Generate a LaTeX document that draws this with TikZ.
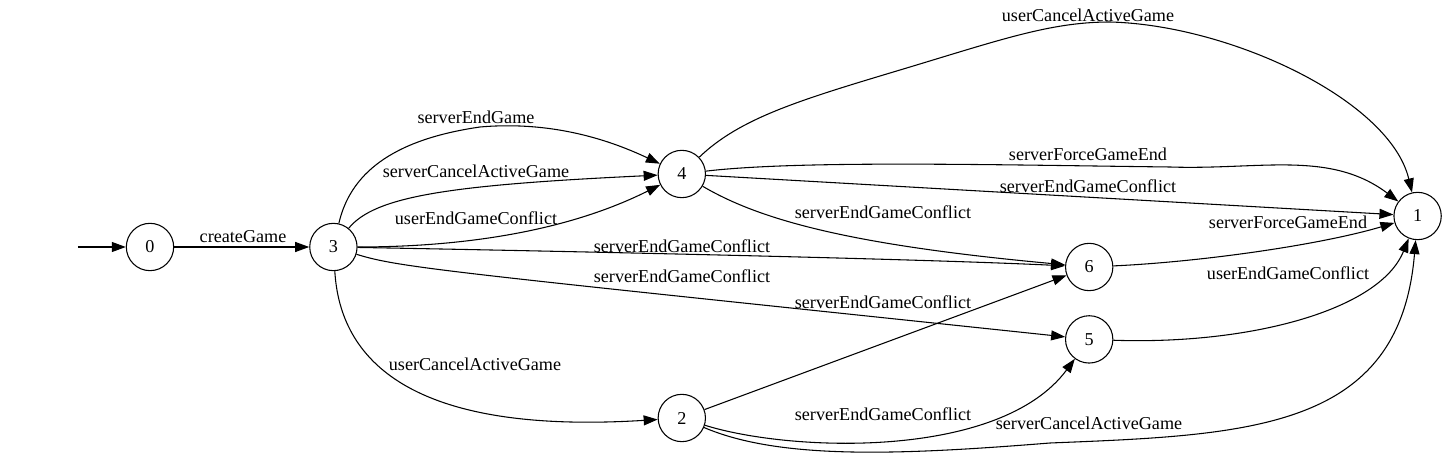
\documentclass[tikz,border=0pt]{standalone}
\usepackage{fontspec}
\setmainfont{Liberation Serif}
\usepackage{tikz}
\usetikzlibrary{
  arrows.meta,
  positioning
}

\begin{document}
\begin{tikzpicture}[
  x=0.75pt, y=-0.75pt,
  st/.style  = {
    circle, draw, line width=0.8pt, minimum size=35.5pt, inner sep=0pt,
    font=\fontsize{13.6}{16}\selectfont
  },
  lbl/.style = {inner sep=0pt, font=\fontsize{13.6}{16}\selectfont},
  arr/.style = {-{Triangle[length=10.5pt,width=7.5pt]}, line width=0.8pt}
]
\useasboundingbox (0,0) rectangle (1447,459);

% Estados
\node[st] (n0) at (150,247) {0};
\node[st, right=101.25pt of n0]                (n3) {3};
\node[st, right=225pt of n3, yshift=54.75pt]    (n4) {4};
\node[st, right=225pt of n3, yshift=-128.25pt]  (n2) {2};
\node[st, right=269.25pt of n4, yshift=-69.75pt] (n6) {6};
\node[st, below=18pt of n6]                    (n5) {5};
\node[st, right=210pt of n6, yshift=38.25pt]    (n1) {1};
\coordinate[left=36pt of n0] (ini);

% Transiciones desde 0 y 3
\draw[arr] (ini) -- (n0);
\draw[arr] (n0) -- (n3);
\draw[arr] (n3) .. controls (350,175) and (390,140) .. (480,127)
                .. controls (560,120) and (620,145) .. (n4);
\draw[arr] (n3) .. controls (375,196) and (450,185) .. (n4);
\draw[arr] (n3) .. controls (450,247) and (560,235) .. (n4);
\draw[arr] (n3) .. controls (500,250) and (900,258) .. (n6);
\draw[arr] (n3) .. controls (400,268) and (450,272) .. (n5);
\draw[arr] (n3) .. controls (340,360) and (410,435) .. (n2);

% Transiciones desde 4
\draw[arr] (n4) .. controls (740,118) and (800,100) .. (900,70)
                .. controls (1000,40) and (1050,22) .. (1110,22)
                .. controls (1230,25) and (1390,100) .. (n1);
\draw[arr] (n4) .. controls (800,160) and (1000,165) .. (1170,167)
                .. controls (1260,170) and (1330,150) .. (n1);
\draw[arr] (n4) -- (n1);
\draw[arr] (n4) .. controls (760,220) and (850,245) .. (n6);

% Transiciones desde 6, 5 y 2
\draw[arr] (n6) .. controls (1200,262) and (1320,245) .. (n1);
\draw[arr] (n5) .. controls (1250,345) and (1380,310) .. (n1);
\draw[arr] (n2) -- (n6);
\draw[arr] (n2) .. controls (790,452) and (1000,460) .. (n5);
\draw[arr] (n2) .. controls (780,460) and (900,455) .. (1050,443)
                .. controls (1250,435) and (1400,430) .. (n1);

% Etiquetas
\node[lbl] (t03)  at (243,237)  {createGame};
\node[lbl] (t34a) at (476,117)  {serverEndGame};
\node[lbl] (t34b) at (476,171)  {serverCancelActiveGame};
\node[lbl] (t34c) at (476,218)  {userEndGameConflict};
\node[lbl] (t36)  at (682,246)  {serverEndGameConflict};
\node[lbl] (t35)  at (682,276)  {serverEndGameConflict};
\node[lbl] (t32)  at (475,364)  {userCancelActiveGame};
\node[lbl] (t41a) at (1088,15)  {userCancelActiveGame};
\node[lbl] (t41b) at (1088,154) {serverForceGameEnd};
\node[lbl] (t41c) at (1088,186) {serverEndGameConflict};
\node[lbl] (t46)  at (883,212)  {serverEndGameConflict};
\node[lbl] (t61)  at (1288,222) {serverForceGameEnd};
\node[lbl] (t51)  at (1288,273) {userEndGameConflict};
\node[lbl] (t26)  at (883,302)  {serverEndGameConflict};
\node[lbl] (t25)  at (883,414)  {serverEndGameConflict};
\node[lbl] (t21)  at (1089,423) {serverCancelActiveGame};

\end{tikzpicture}
\end{document}
